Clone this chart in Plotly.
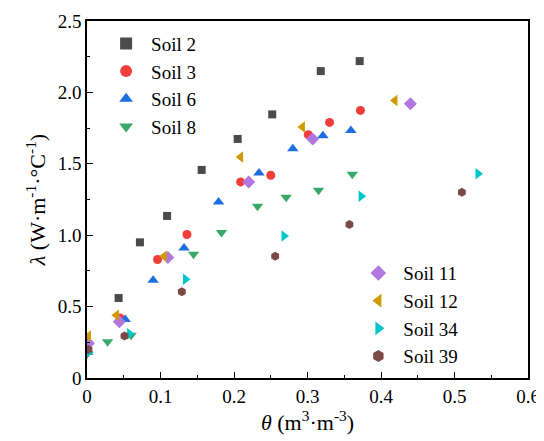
import plotly.graph_objects as go

# water content (m3/m3) and thermal conductivity (W/m/C) for each soil
soil2_x = [0.043, 0.072, 0.109, 0.156, 0.205, 0.252, 0.318, 0.371]
soil2_y = [0.56, 0.95, 1.135, 1.457, 1.674, 1.846, 2.149, 2.219]

soil3_x = [0.045, 0.096, 0.136, 0.209, 0.250, 0.301, 0.330, 0.372]
soil3_y = [0.42, 0.83, 1.005, 1.373, 1.42, 1.704, 1.79, 1.874]

soil6_x = [0.001, 0.052, 0.090, 0.132, 0.179, 0.234, 0.280, 0.321, 0.359]
soil6_y = [0.18, 0.41, 0.685, 0.911, 1.233, 1.436, 1.606, 1.697, 1.734]

soil8_x = [0.0, 0.028, 0.060, 0.145, 0.183, 0.232, 0.271, 0.315, 0.361]
soil8_y = [0.168, 0.254, 0.30, 0.867, 1.019, 1.203, 1.266, 1.315, 1.427]

soil11_x = [0.002, 0.044, 0.110, 0.220, 0.307, 0.440]
soil11_y = [0.243, 0.394, 0.844, 1.373, 1.674, 1.921]

soil12_x = [0.002, 0.040, 0.105, 0.209, 0.293, 0.419]
soil12_y = [0.294, 0.44, 0.853, 1.548, 1.757, 1.944]

soil34_x = [0.002, 0.058, 0.134, 0.268, 0.373, 0.532]
soil34_y = [0.18, 0.31, 0.692, 0.995, 1.273, 1.431]

soil39_x = [0.002, 0.051, 0.129, 0.256, 0.357, 0.510]
soil39_y = [0.20, 0.294, 0.604, 0.853, 1.075, 1.30]

x_ticks = [0, 0.1, 0.2, 0.3, 0.4, 0.5, 0.6]
x_labels = ["0", "0.1", "0.2", "0.3", "0.4", "0.5", "0.6"]
y_ticks = [0, 0.5, 1.0, 1.5, 2.0, 2.5]
y_labels = ["0", "0.5", "1.0", "1.5", "2.0", "2.5"]

series = [
    ("Soil 2", soil2_x, soil2_y, "square", "#4b4b4b", 8, "legend"),
    ("Soil 3", soil3_x, soil3_y, "circle", "#f23d3d", 9, "legend"),
    ("Soil 6", soil6_x, soil6_y, "triangle-up", "#1b6fe0", 10, "legend"),
    ("Soil 8", soil8_x, soil8_y, "triangle-down", "#38a96a", 10, "legend"),
    ("Soil 11", soil11_x, soil11_y, "diamond", "#b178e0", 10, "legend2"),
    ("Soil 12", soil12_x, soil12_y, "triangle-left", "#d09a00", 10, "legend2"),
    ("Soil 34", soil34_x, soil34_y, "triangle-right", "#00c6cc", 10, "legend2"),
    ("Soil 39", soil39_x, soil39_y, "hexagon", "#7b4a47", 9, "legend2"),
]

fig = go.Figure()
for name, xs, ys, sym, col, size, leg in series:
    fig.add_trace(go.Scatter(
        x=xs, y=ys, mode="markers", name=name, legend=leg, legendgroup=name,
        marker=dict(symbol=sym, color=col, size=size, line=dict(width=0)),
    ))

font = "'Liberation Serif', 'Times New Roman', Times, serif"
axis_common = dict(
    showgrid=False, zeroline=False, showline=True, linecolor="black", linewidth=1.5,
    mirror=True, ticks="inside", ticklen=6, tickcolor="black", tickwidth=1.2,
    tickfont=dict(family=font, size=19, color="black"), automargin=False,
    minor=dict(ticks="inside", ticklen=3, tickcolor="black", tickwidth=1),
)

# page body has an 8px margin, so the plot box is shifted by that much
fig.update_layout(
    width=544, height=441,
    margin=dict(l=79, r=24, t=13, b=71),
    paper_bgcolor="white", plot_bgcolor="white",
    font=dict(family=font, size=19, color="black"),
    xaxis=dict(
        range=[0, 0.6], tickvals=x_ticks, ticktext=x_labels,
        minor_dtick=0.05,
        title=dict(text="<i>θ</i> (m<sup>3</sup>·m<sup>-3</sup>)", font=dict(family=font, size=22), standoff=4),
        **axis_common,
    ),
    yaxis=dict(
        range=[0, 2.5], tickvals=y_ticks, ticktext=y_labels,
        minor_dtick=0.25,
        title=dict(text="<i>λ</i> (W·m<sup>-1</sup>·°C<sup>-1</sup>)", font=dict(family=font, size=22), standoff=6),
        **axis_common,
    ),
    legend=dict(
        x=0.032, y=0.99, xanchor="left", yanchor="top",
        bgcolor="rgba(0,0,0,0)", font=dict(family=font, size=19),
        tracegroupgap=0, itemsizing="constant", itemwidth=40,
    ),
    legend2=dict(
        x=0.604, y=0.347, xanchor="left", yanchor="top",
        bgcolor="rgba(0,0,0,0)", font=dict(family=font, size=19),
        tracegroupgap=0, itemsizing="constant", itemwidth=40,
    ),
)

fig.write_html("out.html")
